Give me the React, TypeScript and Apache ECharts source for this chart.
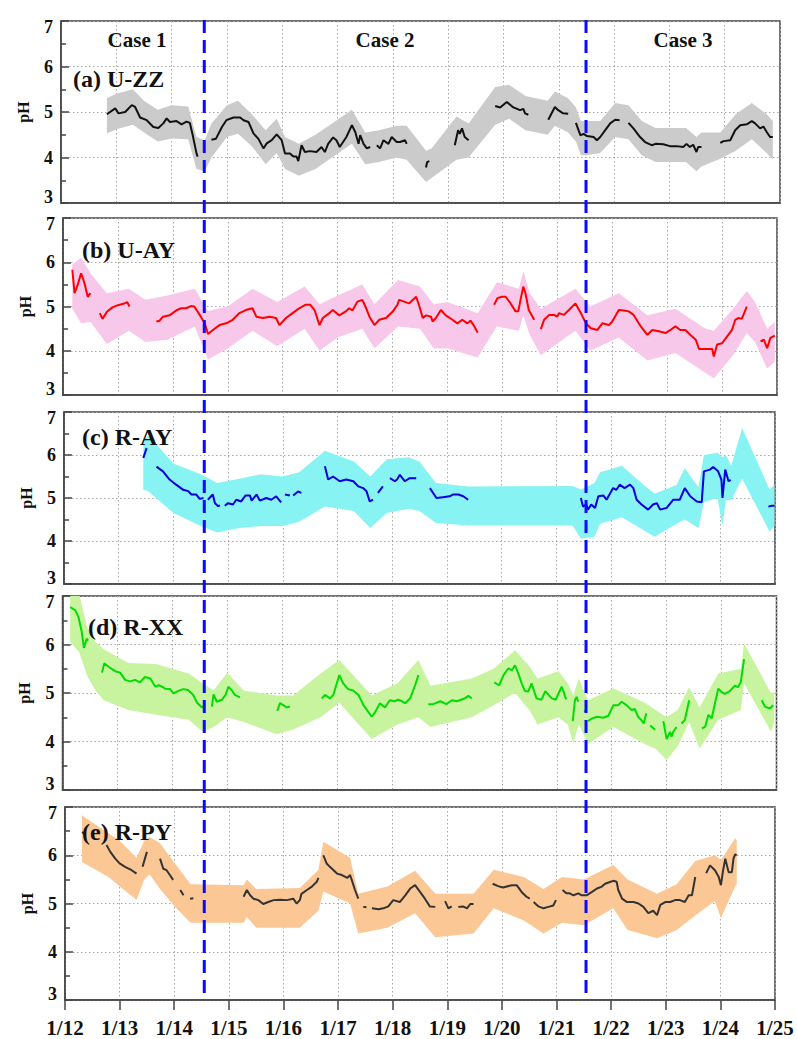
import React, { useEffect, useRef } from 'react';
import * as echarts from 'echarts';

type P = [number, number];
type B = [number, number, number];

// x values are days after 1/12 00:00
const dayLabels = ['1/12', '1/13', '1/14', '1/15', '1/16', '1/17', '1/18', '1/19', '1/20', '1/21', '1/22', '1/23', '1/24', '1/25'];
const caseDividers = [2.55, 9.54];
const caseLabels = ['Case 1', 'Case 2', 'Case 3'];
const panelTitles = ['(a) U-ZZ', '(b) U-AY', '(c) R-AY', '(d) R-XX', '(e) R-PY'];

// ---------- (a) U-ZZ ----------
const uzzLine: P[][] = [
  [[0.83, 4.95], [0.98, 5.08], [1.04, 4.97], [1.16, 5.0], [1.28, 5.15], [1.34, 5.11], [1.43, 4.88], [1.55, 4.82], [1.67, 4.67], [1.76, 4.65], [1.85, 4.75], [1.91, 4.86], [1.97, 4.78], [2.09, 4.8], [2.18, 4.73], [2.27, 4.79], [2.33, 4.76], [2.38, 4.5], [2.45, 4.09], [2.47, 4.02]],
  [[2.72, 4.39], [2.8, 4.41], [2.91, 4.67], [2.99, 4.82], [3.12, 4.88], [3.24, 4.88], [3.3, 4.82], [3.39, 4.78], [3.48, 4.53], [3.57, 4.41], [3.66, 4.2], [3.72, 4.31], [3.81, 4.38], [3.9, 4.51], [3.99, 4.38], [4.05, 4.09], [4.14, 4.09], [4.2, 4.02], [4.26, 4.02], [4.29, 3.92], [4.35, 4.27], [4.41, 4.12], [4.5, 4.14], [4.62, 4.12], [4.71, 4.23], [4.77, 4.12], [4.83, 4.3], [4.92, 4.44], [4.98, 4.38], [5.04, 4.23], [5.1, 4.34], [5.16, 4.45], [5.26, 4.71], [5.32, 4.56], [5.38, 4.3], [5.41, 4.49], [5.47, 4.3], [5.53, 4.2], [5.59, 4.23]],
  [[5.71, 4.27], [5.77, 4.2], [5.83, 4.38], [5.92, 4.3], [5.98, 4.45], [6.07, 4.34], [6.13, 4.34], [6.22, 4.38], [6.25, 4.3]],
  [[6.6, 3.78], [6.62, 3.9], [6.66, 3.92]],
  [[7.12, 4.27], [7.18, 4.6], [7.21, 4.52], [7.25, 4.64], [7.3, 4.45], [7.37, 4.38]],
  [[7.85, 5.13], [7.94, 5.1], [8.06, 5.22], [8.18, 5.1], [8.3, 5.04], [8.36, 5.07], [8.39, 4.97], [8.45, 4.94]],
  [[8.81, 4.83], [8.93, 5.11], [8.99, 5.04], [9.08, 4.97], [9.17, 4.96]],
  [[9.31, 4.76], [9.39, 4.49], [9.45, 4.52], [9.51, 4.47], [9.63, 4.45], [9.69, 4.38], [9.75, 4.45], [9.84, 4.6], [9.93, 4.75], [10.02, 4.83], [10.1, 4.82]],
  [[10.26, 4.76], [10.35, 4.64], [10.47, 4.45], [10.56, 4.34], [10.68, 4.27], [10.75, 4.3], [10.89, 4.29], [11.01, 4.25], [11.13, 4.25], [11.25, 4.23], [11.31, 4.3], [11.37, 4.23], [11.43, 4.28], [11.49, 4.12], [11.52, 4.23], [11.58, 4.23]],
  [[11.92, 4.32], [11.98, 4.36], [12.1, 4.38], [12.19, 4.6], [12.28, 4.71], [12.4, 4.73], [12.49, 4.8], [12.55, 4.75], [12.64, 4.64], [12.7, 4.68], [12.76, 4.56], [12.82, 4.45], [12.87, 4.45]],
];
const uzzBand: B[] = [
  [0.83, 4.53, 5.3], [1.0, 4.62, 5.4], [1.3, 4.72, 5.5], [1.5, 4.55, 5.25], [1.75, 4.35, 5.05], [2.0, 4.42, 5.15], [2.3, 4.4, 5.12], [2.45, 3.75, 4.45], [2.6, 3.7, 4.38], [2.72, 4.0, 4.75], [3.0, 4.45, 5.15], [3.2, 4.52, 5.25], [3.45, 4.25, 4.95], [3.7, 3.85, 4.6], [3.9, 4.1, 4.85], [4.05, 3.75, 4.45], [4.3, 3.6, 4.3], [4.6, 3.75, 4.5], [4.9, 4.0, 4.75], [5.26, 4.3, 5.05], [5.5, 3.85, 4.55], [5.75, 3.9, 4.6], [6.07, 4.0, 4.7], [6.25, 3.95, 4.7], [6.6, 3.46, 4.15], [6.7, 3.55, 4.2], [7.15, 3.95, 4.9], [7.37, 4.0, 4.75], [7.85, 4.72, 5.55], [8.1, 4.85, 5.6], [8.4, 4.6, 5.35], [8.8, 4.5, 5.25], [8.93, 4.7, 5.45], [9.17, 4.55, 5.3], [9.31, 4.35, 5.1], [9.4, 4.05, 4.8], [9.5, 4.05, 4.8], [9.75, 4.1, 4.8], [10.02, 4.45, 5.2], [10.26, 4.4, 5.15], [10.5, 4.05, 4.8], [10.75, 3.9, 4.65], [11.0, 3.9, 4.65], [11.3, 3.9, 4.65], [11.49, 3.7, 4.45], [11.58, 3.8, 4.55], [11.92, 3.97, 4.55], [12.2, 4.15, 4.95], [12.49, 4.4, 5.2], [12.76, 4.1, 4.95], [12.87, 3.95, 4.8],
];

// ---------- (b) U-AY ----------
const uayLine: P[][] = [
  [[0.17, 5.83], [0.21, 5.3], [0.27, 5.5], [0.33, 5.75], [0.39, 5.53], [0.45, 5.22], [0.5, 5.3]],
  [[0.67, 4.85], [0.72, 4.72], [0.8, 4.88], [0.9, 4.98], [1.0, 5.03], [1.1, 5.06], [1.17, 5.1], [1.21, 5.0]],
  [[1.7, 4.66], [1.76, 4.68], [1.82, 4.77], [1.94, 4.8], [2.06, 4.91], [2.15, 4.96], [2.24, 4.96], [2.33, 5.01], [2.39, 5.0], [2.49, 4.81], [2.58, 4.62], [2.64, 4.38], [2.73, 4.47], [2.85, 4.58], [2.97, 4.62], [3.09, 4.7], [3.21, 4.85], [3.33, 4.92], [3.45, 4.96], [3.52, 4.77], [3.64, 4.74], [3.76, 4.77], [3.88, 4.74], [3.94, 4.58], [4.06, 4.74], [4.18, 4.85], [4.3, 4.96], [4.42, 5.04], [4.5, 5.04], [4.58, 4.92], [4.67, 4.58], [4.73, 4.74], [4.85, 4.85], [4.91, 4.92], [5.03, 4.8], [5.15, 4.89], [5.21, 4.96], [5.27, 4.91], [5.36, 5.11], [5.45, 5.15], [5.52, 4.96], [5.58, 4.77], [5.67, 4.58], [5.76, 4.7], [5.88, 4.74], [6.0, 4.88], [6.09, 5.04], [6.12, 5.15], [6.21, 5.11], [6.3, 5.07], [6.43, 5.22], [6.49, 5.0], [6.55, 4.74], [6.61, 4.8], [6.7, 4.77], [6.73, 4.66], [6.79, 4.74], [6.88, 4.92], [6.97, 4.8], [7.09, 4.7], [7.18, 4.62], [7.27, 4.7], [7.36, 4.62], [7.42, 4.68], [7.49, 4.55], [7.55, 4.41]],
  [[7.85, 5.04], [7.91, 5.19], [7.99, 5.22], [8.06, 5.22], [8.15, 5.07], [8.24, 4.89], [8.29, 4.89], [8.33, 5.15], [8.38, 5.45], [8.42, 5.3], [8.48, 4.92], [8.58, 4.7]],
  [[8.7, 4.49], [8.76, 4.7], [8.85, 4.81], [8.94, 4.81], [9.0, 4.77], [9.03, 4.85], [9.12, 4.81], [9.21, 4.92], [9.33, 5.07], [9.43, 4.85], [9.52, 4.62], [9.61, 4.51], [9.73, 4.47], [9.82, 4.62], [9.94, 4.58], [10.0, 4.66], [10.12, 4.92], [10.21, 4.91], [10.3, 4.89], [10.39, 4.81], [10.52, 4.55], [10.64, 4.36], [10.73, 4.47], [10.85, 4.44], [10.97, 4.4], [11.06, 4.47], [11.15, 4.55], [11.24, 4.47], [11.33, 4.47], [11.42, 4.36], [11.52, 4.25], [11.58, 4.04], [11.7, 4.04], [11.82, 4.04], [11.85, 3.87], [11.91, 4.14], [12.0, 4.17], [12.09, 4.32], [12.18, 4.47], [12.24, 4.7], [12.3, 4.74], [12.36, 4.72], [12.45, 5.0]],
  [[12.7, 4.21], [12.76, 4.25], [12.82, 4.06], [12.88, 4.29], [12.96, 4.34]],
];
const uayBand: B[] = [
  [0.17, 4.95, 5.95], [0.33, 4.62, 6.1], [0.5, 4.65, 5.75], [0.8, 4.15, 5.3], [1.2, 4.45, 5.4], [1.5, 4.2, 5.15], [1.9, 4.25, 5.25], [2.4, 4.55, 5.4], [2.64, 3.8, 4.9], [3.0, 4.05, 5.0], [3.45, 4.45, 5.4], [3.9, 4.1, 5.1], [4.4, 4.5, 5.45], [4.67, 4.0, 5.05], [5.0, 4.3, 5.25], [5.45, 4.5, 5.5], [5.67, 4.05, 5.05], [6.1, 4.55, 5.6], [6.5, 4.5, 5.45], [6.75, 4.05, 5.05], [7.0, 4.05, 5.1], [7.55, 3.85, 4.85], [7.9, 4.55, 5.55], [8.3, 4.45, 5.4], [8.38, 4.8, 5.8], [8.5, 4.35, 5.3], [8.7, 3.9, 4.95], [9.33, 4.45, 5.4], [9.6, 4.0, 5.0], [10.12, 4.3, 5.3], [10.64, 3.78, 4.8], [11.15, 3.95, 4.95], [11.7, 3.5, 4.5], [11.85, 3.38, 4.45], [12.2, 3.9, 4.95], [12.45, 4.4, 5.35], [12.6, 4.2, 5.1], [12.82, 3.6, 4.5], [12.96, 3.75, 4.65],
];

// ---------- (c) R-AY ----------
const rayLine: P[][] = [
  [[1.45, 5.93], [1.51, 6.16]],
  [[1.69, 5.73], [1.81, 5.62], [1.93, 5.43], [2.05, 5.31], [2.18, 5.19], [2.27, 5.16], [2.33, 5.08], [2.42, 5.08], [2.48, 4.98], [2.55, 5.0]],
  [[2.63, 4.96], [2.72, 5.08], [2.76, 4.88], [2.82, 4.81], [2.85, 4.83]],
  [[2.94, 4.82], [3.0, 4.88], [3.09, 4.85], [3.15, 4.96], [3.24, 4.92], [3.32, 5.06], [3.4, 5.06], [3.43, 4.94], [3.52, 5.08], [3.58, 4.94], [3.7, 5.0], [3.79, 4.96], [3.88, 5.04], [3.97, 4.9]],
  [[4.04, 5.08], [4.13, 5.06]],
  [[4.19, 5.06], [4.28, 5.15], [4.34, 5.12]],
  [[4.77, 5.74], [4.83, 5.43], [4.92, 5.5], [5.04, 5.39], [5.16, 5.43], [5.29, 5.39], [5.38, 5.27], [5.47, 5.23], [5.53, 5.16], [5.59, 4.92], [5.65, 4.96]],
  [[5.74, 5.12], [5.83, 5.27]],
  [[5.96, 5.46], [6.05, 5.39], [6.09, 5.43], [6.14, 5.54], [6.23, 5.39], [6.32, 5.46], [6.41, 5.46], [6.44, 5.46]],
  [[6.69, 5.23], [6.81, 5.0], [6.93, 5.02], [7.05, 5.04], [7.11, 5.08], [7.21, 5.08], [7.3, 5.04], [7.39, 4.96]],
  [[9.45, 5.0], [9.49, 4.8], [9.55, 4.85], [9.58, 4.73], [9.64, 4.85], [9.71, 4.77], [9.77, 5.04], [9.86, 5.06], [9.92, 4.96], [10.04, 5.23], [10.1, 5.19], [10.16, 5.31], [10.25, 5.23], [10.35, 5.31], [10.41, 5.23], [10.47, 4.96], [10.56, 4.85], [10.68, 4.73], [10.77, 4.85], [10.84, 4.88], [10.9, 4.73], [11.02, 4.77], [11.14, 4.96], [11.26, 4.96], [11.35, 5.23], [11.45, 5.04], [11.57, 4.92], [11.66, 4.9], [11.7, 5.62], [11.81, 5.66], [11.87, 5.72], [11.96, 5.62], [12.02, 5.43], [12.04, 5.0], [12.09, 5.66], [12.15, 5.39], [12.19, 5.42]],
  [[12.88, 4.8], [12.94, 4.82], [12.99, 4.82]],
];
const rayBand: B[] = [
  [1.45, 5.2, 6.35], [1.55, 5.15, 6.45], [2.0, 4.65, 5.8], [2.5, 4.35, 5.55], [2.8, 4.2, 5.35], [3.2, 4.3, 5.45], [3.6, 4.35, 5.55], [4.0, 4.35, 5.5], [4.3, 4.45, 5.6], [4.77, 4.8, 6.1], [5.3, 4.7, 5.85], [5.6, 4.3, 5.5], [5.9, 4.65, 5.9], [6.3, 4.75, 5.95], [6.5, 4.7, 5.85], [6.8, 4.42, 5.35], [7.39, 4.36, 5.27], [9.3, 4.36, 5.28], [9.45, 4.05, 5.2], [9.7, 4.1, 5.35], [9.8, 4.4, 5.6], [10.2, 4.55, 5.75], [10.6, 4.25, 5.3], [10.8, 4.1, 5.1], [11.2, 4.4, 5.3], [11.35, 4.5, 5.7], [11.6, 4.3, 5.25], [11.7, 4.9, 6.0], [11.95, 5.0, 6.05], [12.04, 4.35, 5.95], [12.1, 4.95, 6.0], [12.2, 4.95, 5.75], [12.4, 5.45, 6.63], [12.9, 4.22, 5.2], [12.99, 4.35, 5.3],
];

// ---------- (d) R-XX ----------
const rxxLine: P[][] = [
  [[0.14, 6.77], [0.23, 6.71], [0.29, 6.57], [0.35, 6.26], [0.39, 5.93], [0.44, 6.12], [0.47, 6.08]],
  [[0.72, 5.42], [0.76, 5.61], [0.84, 5.54], [0.96, 5.45], [1.05, 5.42], [1.14, 5.27], [1.23, 5.24], [1.32, 5.27], [1.41, 5.22], [1.5, 5.33], [1.6, 5.3], [1.69, 5.13], [1.75, 5.16], [1.81, 5.13], [1.87, 5.09], [1.96, 5.08], [2.02, 4.99], [2.12, 5.05], [2.2, 5.08], [2.29, 5.06], [2.38, 4.96], [2.45, 4.8], [2.54, 4.7], [2.6, 4.77]],
  [[2.72, 4.72], [2.75, 4.97], [2.81, 4.82], [2.9, 4.86], [2.97, 4.96], [3.02, 5.13], [3.08, 5.06], [3.14, 4.96], [3.23, 4.91]],
  [[3.91, 4.63], [3.96, 4.79], [4.02, 4.75], [4.08, 4.7], [4.14, 4.72]],
  [[4.72, 4.89], [4.78, 4.96], [4.87, 4.89], [4.93, 4.96], [5.04, 5.37], [5.11, 5.2], [5.2, 5.08], [5.29, 5.05], [5.39, 4.96], [5.48, 4.75], [5.63, 4.51], [5.69, 4.6], [5.78, 4.79], [5.87, 4.7], [5.96, 4.85], [6.05, 4.83], [6.1, 4.86], [6.15, 4.85], [6.24, 4.79], [6.33, 4.89], [6.42, 5.16], [6.48, 5.37]],
  [[6.66, 4.77], [6.75, 4.77], [6.88, 4.83], [6.99, 4.77], [7.09, 4.85], [7.18, 4.83], [7.31, 4.88], [7.39, 4.94], [7.45, 4.89]],
  [[7.86, 5.22], [7.95, 5.16], [8.03, 5.37], [8.12, 5.51], [8.18, 5.47], [8.24, 5.57], [8.3, 5.4], [8.36, 5.2], [8.42, 5.04], [8.48, 5.03], [8.54, 5.2], [8.63, 4.89], [8.72, 4.86], [8.79, 5.04], [8.85, 4.96], [8.91, 4.89], [8.98, 4.86], [9.03, 4.99], [9.09, 5.13], [9.17, 4.87]],
  [[9.29, 4.42], [9.33, 4.85], [9.36, 4.92], [9.39, 4.82]],
  [[9.5, 4.65], [9.53, 4.6]],
  [[9.57, 4.42], [9.63, 4.47], [9.73, 4.51], [9.85, 4.49], [9.94, 4.53], [10.03, 4.75], [10.12, 4.75], [10.18, 4.82], [10.27, 4.75], [10.36, 4.65], [10.42, 4.67], [10.48, 4.51], [10.54, 4.44], [10.58, 4.37], [10.63, 4.58]],
  [[10.7, 4.33], [10.79, 4.24]],
  [[10.94, 4.42], [11.0, 4.05], [11.06, 4.2], [11.09, 4.1], [11.12, 4.2], [11.18, 4.3]],
  [[11.27, 4.37], [11.33, 4.44], [11.41, 4.85]],
  [[11.64, 4.27], [11.7, 4.3], [11.76, 4.55], [11.82, 4.48], [11.88, 4.79], [11.94, 5.09], [12.0, 5.02], [12.06, 4.98], [12.15, 5.04], [12.24, 5.15], [12.3, 5.12], [12.35, 5.23], [12.41, 5.7]],
  [[12.73, 4.85], [12.79, 4.72], [12.88, 4.68], [12.94, 4.75]],
];
const rxxBand: B[] = [
  [0.14, 6.05, 7.2], [0.3, 5.85, 7.05], [0.45, 5.35, 6.35], [0.6, 5.05, 6.05], [0.75, 4.85, 5.9], [1.2, 4.65, 5.62], [1.7, 4.55, 5.6], [2.3, 4.45, 5.4], [2.55, 4.2, 5.2], [2.75, 4.3, 5.05], [3.0, 4.5, 5.42], [3.3, 4.4, 5.05], [3.9, 4.15, 4.95], [4.2, 4.25, 4.95], [4.7, 4.5, 5.4], [5.04, 4.8, 5.68], [5.63, 4.05, 4.95], [6.1, 4.35, 5.2], [6.48, 4.5, 5.68], [6.7, 4.3, 5.15], [7.45, 4.5, 5.3], [7.85, 4.75, 5.5], [8.24, 5.0, 5.88], [8.5, 4.65, 5.55], [8.65, 4.35, 5.3], [9.03, 4.5, 5.45], [9.2, 4.35, 5.2], [9.3, 3.96, 4.95], [9.4, 4.35, 5.3], [9.57, 3.95, 4.85], [10.03, 4.3, 5.1], [10.6, 3.95, 4.8], [10.8, 3.85, 4.65], [11.0, 3.62, 4.5], [11.2, 3.9, 4.65], [11.41, 4.4, 5.12], [11.6, 3.85, 4.7], [11.94, 4.45, 5.4], [12.35, 4.65, 5.5], [12.41, 5.2, 6.02], [12.9, 4.2, 5.0], [12.96, 4.4, 5.02],
];

// ---------- (e) R-PY ----------
const rpyLine: P[][] = [
  [[0.31, 6.48], [0.35, 6.45]],
  [[0.76, 6.21], [0.83, 6.07], [0.92, 5.93], [1.0, 5.83], [1.1, 5.76], [1.22, 5.69], [1.31, 5.62]],
  [[1.42, 5.76], [1.5, 6.07]],
  [[1.74, 5.93], [1.8, 5.72], [1.86, 5.69], [1.92, 5.59], [1.98, 5.49]],
  [[2.11, 5.28], [2.17, 5.17]],
  [[2.29, 5.1], [2.35, 5.11]],
  [[3.27, 5.14], [3.33, 5.28], [3.39, 5.17], [3.45, 5.1], [3.54, 5.07], [3.63, 4.99], [3.72, 5.03], [3.82, 5.07], [3.94, 5.08], [4.06, 5.07], [4.18, 5.1], [4.24, 5.0], [4.3, 5.07], [4.33, 5.2], [4.43, 5.28], [4.52, 5.35], [4.61, 5.45], [4.64, 5.53]],
  [[4.73, 6.0], [4.79, 5.83], [4.85, 5.76], [4.98, 5.62], [5.07, 5.59], [5.17, 5.53], [5.22, 5.59], [5.25, 5.49], [5.31, 5.28], [5.37, 5.1]],
  [[5.46, 4.93], [5.52, 4.92]],
  [[5.62, 4.9], [5.74, 4.88], [5.83, 4.9], [5.92, 4.94], [6.01, 5.07], [6.13, 5.03], [6.23, 5.17], [6.32, 5.31], [6.41, 5.38], [6.5, 5.24], [6.59, 5.1], [6.68, 4.94], [6.78, 4.93]],
  [[6.96, 5.05], [7.02, 4.9], [7.08, 4.94]],
  [[7.2, 4.93], [7.29, 4.94], [7.36, 4.9], [7.42, 4.99], [7.48, 4.99]],
  [[7.83, 5.41], [7.93, 5.36], [8.02, 5.33], [8.18, 5.38], [8.27, 5.38], [8.36, 5.24], [8.45, 5.14], [8.51, 5.1]],
  [[8.58, 5.03], [8.67, 4.94], [8.76, 4.9], [8.85, 4.93], [8.94, 4.96], [8.99, 5.07]],
  [[9.11, 5.28], [9.18, 5.21], [9.24, 5.21], [9.31, 5.17], [9.4, 5.21], [9.46, 5.17], [9.55, 5.17], [9.65, 5.24], [9.74, 5.31], [9.83, 5.35], [9.89, 5.41], [9.99, 5.45], [10.04, 5.47], [10.1, 5.45], [10.13, 5.28], [10.2, 5.1], [10.29, 5.03], [10.41, 5.03], [10.5, 5.0], [10.59, 4.93], [10.68, 4.8], [10.77, 4.85], [10.84, 4.76], [10.9, 4.97], [10.99, 5.03], [11.08, 5.03], [11.17, 5.07], [11.26, 5.07], [11.35, 5.03], [11.42, 5.17], [11.48, 5.17], [11.54, 5.55]],
  [[11.74, 5.63], [11.81, 5.79], [11.9, 5.69], [11.97, 5.55], [12.01, 5.38], [12.05, 5.69], [12.09, 5.93], [12.15, 5.65], [12.21, 5.65], [12.24, 5.93], [12.27, 6.02], [12.3, 6.0]],
];
const rpyBand: B[] = [
  [0.31, 5.86, 6.83], [0.8, 5.55, 6.45], [1.0, 5.35, 6.3], [1.31, 5.08, 5.95], [1.45, 5.5, 6.3], [1.55, 5.6, 6.38], [1.74, 5.3, 6.25], [2.0, 4.95, 5.85], [2.3, 4.6, 5.4], [3.27, 4.6, 5.38], [3.33, 4.72, 5.5], [3.5, 4.5, 5.3], [4.3, 4.5, 5.32], [4.64, 4.85, 5.7], [4.73, 5.25, 6.28], [5.22, 5.0, 5.95], [5.37, 4.38, 5.2], [5.9, 4.5, 5.35], [6.41, 4.8, 5.68], [6.78, 4.3, 5.2], [7.48, 4.38, 5.2], [7.85, 4.9, 5.7], [8.4, 4.65, 5.55], [8.76, 4.38, 5.3], [9.1, 4.6, 5.55], [9.5, 4.55, 5.5], [10.04, 4.9, 5.8], [10.3, 4.45, 5.5], [10.84, 4.28, 5.2], [11.2, 4.45, 5.4], [11.54, 4.75, 5.88], [11.9, 5.05, 6.0], [12.01, 4.7, 5.9], [12.27, 5.35, 6.35], [12.3, 5.4, 6.3],
];

const panelLines = [uzzLine, uayLine, rayLine, rxxLine, rpyLine];
const panelBands = [uzzBand, uayBand, rayBand, rxxBand, rpyBand];

// ---------- styling / layout ----------
const FONT = "'Liberation Serif', 'Times New Roman', serif";
const lineColors = ['#111111', '#ff0000', '#0000dd', '#00dd00', '#333333'];
const bandColors = ['#cbcbcb', '#f8c8ea', '#88f3f3', '#c8f4a0', '#fbc795'];
const grids = [
  { left: 61, top: 21, width: 719, height: 182 },
  { left: 63, top: 218, width: 714, height: 177 },
  { left: 64, top: 412, width: 711, height: 172 },
  { left: 62.5, top: 596, width: 714, height: 194 },
  { left: 65, top: 807, width: 710, height: 193 },
];
const titlePos = [
  [73, 79], [82, 250], [82, 437], [88, 627], [82, 832],
];
const casePos = [[137, 40], [385, 40], [683, 40]];

function joinSegments(segs: P[][]) {
  const out: any[] = [];
  segs.forEach((s, k) => {
    if (k > 0) out.push([s[0][0] - 0.005, '-']);
    s.forEach((p) => out.push(p));
  });
  return out;
}

export default function App() {
  const ref = useRef<HTMLDivElement>(null);
  useEffect(() => {
    document.body.style.margin = '0';
    if (!ref.current) return;
    const chart = echarts.init(ref.current, undefined, { renderer: 'svg' });

    const grid = grids.map((g) => ({
      ...g,
      show: true,
      borderColor: '#444',
      borderWidth: 1.5,
      backgroundColor: '#fff',
      containLabel: false,
    }));

    const gridLineStyle = { color: '#a8a8a8', type: [1.5, 2.5], width: 1 };

    const xAxis = grids.map((_, i) => ({
      type: 'value',
      gridIndex: i,
      min: 0,
      max: 13,
      interval: 1,
      axisLine: { show: true, lineStyle: { color: '#444', width: 1.5 } },
      axisTick: { show: i === 4, length: 10, inside: false, lineStyle: { color: '#444', width: 1.5 } },
      axisLabel: {
        show: i === 4,
        margin: 17,
        fontFamily: FONT,
        fontWeight: 'bold',
        fontSize: 21,
        color: '#111',
        formatter: (v: number) => dayLabels[Math.round(v)] ?? '',
      },
      splitLine: { show: true, lineStyle: gridLineStyle },
    }));

    const labelText = { fontFamily: FONT, fontWeight: 'bold', fontSize: 18, color: '#111' };
    const yAxis = grids.map((_, i) => ({
      type: 'value',
      gridIndex: i,
      min: 3,
      max: 7,
      interval: 1,
      name: 'pH',
      nameLocation: 'middle',
      nameGap: 30,
      nameRotate: 90,
      nameTextStyle: { fontFamily: FONT, fontWeight: 'bold', fontSize: 16, color: '#111' },
      axisLine: { show: true, lineStyle: { color: '#444', width: 1.5 } },
      axisTick: { show: true, inside: true, length: 8, lineStyle: { color: '#444', width: 1.5 } },
      minorTick: { show: true, splitNumber: 2, length: 5, lineStyle: { color: '#444', width: 1.5 } },
      axisLabel: {
        margin: 8,
        ...labelText,
        formatter: (v: number) => (v === 3 ? '{lo|3}' : v === 7 ? '{hi|7}' : '{n|' + v + '}'),
        rich: {
          lo: { ...labelText, lineHeight: 30, verticalAlign: 'top' },
          hi: { ...labelText, lineHeight: 30, verticalAlign: 'bottom' },
          n: { ...labelText },
        },
      },
      splitLine: { show: true, lineStyle: gridLineStyle },
    }));

    const series: any[] = [];
    panelBands.forEach((band, i) => {
      series.push({
        type: 'custom',
        xAxisIndex: i,
        yAxisIndex: i,
        silent: true,
        clip: true,
        z: 2,
        data: band,
        encode: { x: 0, y: [1, 2] },
        renderItem: (params: any, api: any) => {
          if (params.dataIndex !== 0) return null;
          const upper = band.map((b) => api.coord([b[0], b[2]]));
          const lower = band.slice().reverse().map((b) => api.coord([b[0], b[1]]));
          const cs = params.coordSys;
          return {
            type: 'group',
            clipPath: { type: 'rect', shape: { x: cs.x, y: cs.y, width: cs.width, height: cs.height } },
            children: [
              {
                type: 'polygon',
                shape: { points: [...upper, ...lower] },
                style: { fill: bandColors[i], stroke: 'none' },
              },
            ],
          };
        },
      });
    });
    panelLines.forEach((segs, i) => {
      series.push({
        type: 'line',
        xAxisIndex: i,
        yAxisIndex: i,
        symbol: 'none',
        connectNulls: false,
        lineStyle: { color: lineColors[i], width: 2 },
        data: joinSegments(segs),
        z: 5,
      });
    });

    const texts: any[] = [];
    panelTitles.forEach((t, i) => {
      texts.push({
        type: 'text',
        x: titlePos[i][0],
        y: titlePos[i][1],
        z: 50,
        style: {
          text: t,
          fontFamily: FONT,
          fontWeight: 'bold',
          fontSize: 24,
          fill: '#111',
          textVerticalAlign: 'middle',
          verticalAlign: 'middle',
        },
      });
    });
    caseLabels.forEach((t, i) => {
      texts.push({
        type: 'text',
        x: casePos[i][0],
        y: casePos[i][1],
        z: 50,
        style: {
          text: t,
          fontFamily: FONT,
          fontWeight: 'bold',
          fontSize: 21,
          fill: '#111',
          align: 'center',
          textAlign: 'center',
          verticalAlign: 'middle',
          textVerticalAlign: 'middle',
        },
      });
    });

    chart.setOption({
      animation: false,
      backgroundColor: '#ffffff',
      grid,
      xAxis,
      yAxis,
      series,
      graphic: texts,
    });

    const top = grids[0].top - 1;
    const bottom = grids[4].top + grids[4].height;
    const dividers = caseDividers.map((v) => {
      const px = chart.convertToPixel({ xAxisIndex: 4 }, v) as number;
      return {
        type: 'line',
        z: 60,
        shape: { x1: px, y1: top, x2: px, y2: bottom },
        style: { stroke: '#0a0aff', lineWidth: 3, lineDash: [13, 7] },
      };
    });
    chart.setOption({ graphic: [...texts, ...dividers] });

    return () => chart.dispose();
  }, []);

  return <div ref={ref} style={{ width: 797, height: 1039, background: '#fff' }} />;
}
